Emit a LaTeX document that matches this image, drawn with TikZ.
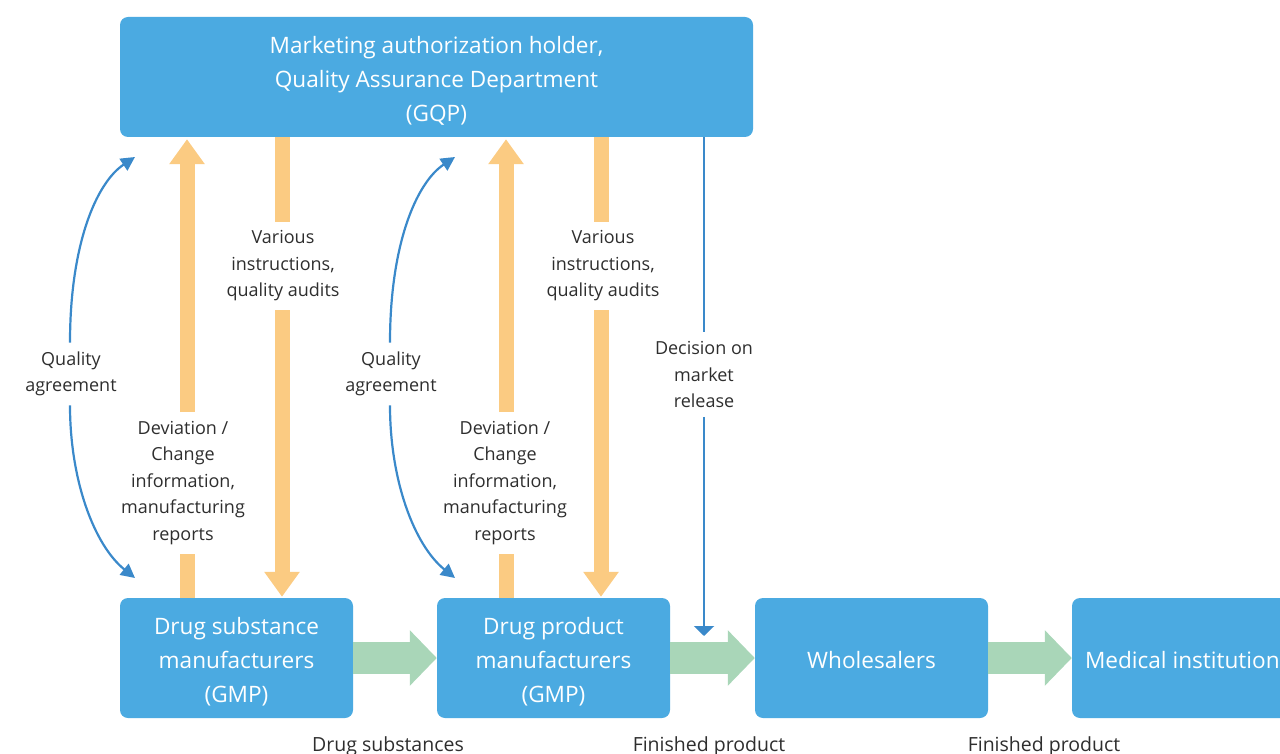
\documentclass[tikz,border=0pt]{standalone}
\usepackage{fontspec}
\setmainfont{Open Sans}
\usetikzlibrary{arrows.meta}
\definecolor{boxblue}{HTML}{4BAAE1}
\definecolor{lineblue}{HTML}{3A89CA}
\definecolor{orangeA}{HTML}{FBCB82}
\definecolor{greenA}{HTML}{A9D6B8}
\definecolor{txt}{HTML}{2E2E2E}
\begin{document}
\begin{tikzpicture}[x=1pt,y=-1pt,
  box/.style={fill=boxblue, rounded corners=8pt, minimum width=233pt, minimum height=120pt, inner sep=0pt},
  boxtext/.style={text=white, align=center, font=\fontsize{22.6}{34}\selectfont, inner sep=0pt},
  lbl/.style={text=txt, align=center, font=\fontsize{18}{26.5}\selectfont, inner xsep=2pt, inner ysep=9pt},
  blbl/.style={text=txt, font=\fontsize{19.5}{26}\selectfont, inner sep=0pt},
  garrow/.style={draw=greenA, line width=32pt, -{Triangle[width=54pt,length=27pt]}},
  oshaft/.style={draw=orangeA, line width=15pt},
  oarrow/.style={draw=orangeA, line width=15pt, -{Triangle[width=34pt,length=25pt]}},
  bcurve/.style={draw=lineblue, line width=2.2pt, -{Triangle[width=14pt,length=14pt]}},
  bline/.style={draw=lineblue, line width=2.2pt},
  barrow/.style={draw=lineblue, line width=2.2pt, -{Triangle[width=20pt,length=10pt]}}
]
\path[use as bounding box, clip] (0,0) rectangle (1280,754);

% boxes
\node[box, minimum width=633pt] (mah) at (436.5,77) {};
\node[box] (ds) at (236.5,658) {};
\node[box] (dp) at (553.5,658) {};
\node[box] (wh) at (871.5,658) {};
\node[box] (mi) at (1188.5,658) {};

% box texts
\node[boxtext] (mahT) at ([yshift=-3.5pt]mah.center) {Marketing authorization holder,\\Quality Assurance Department\\(GQP)};
\node[boxtext] (dsT) at ([yshift=-3.5pt]ds.center) {Drug substance\\manufacturers\\(GMP)};
\node[boxtext] (dpT) at ([yshift=-3.5pt]dp.center) {Drug product\\manufacturers\\(GMP)};
\node[boxtext] (whT) at ([yshift=-2pt]wh.center) {Wholesalers};
\node[boxtext, anchor=west] (miT) at ([xshift=13pt,yshift=-2pt]mi.west) {Medical institutions};

% green flow arrows
\draw[garrow] (ds.east) -- (dp.west);
\draw[garrow] (dp.east) -- (wh.west);
\draw[garrow] (wh.east) -- (mi.west);

% bottom labels
\node[blbl] (l1) at (388,746) {Drug substances};
\node[blbl] (l2) at (709,746) {Finished product};
\node[blbl] (l3) at (1044,746) {Finished product};

% x references
\coordinate (xA) at (187,0);
\coordinate (xB) at (282,0);
\coordinate (xC) at (506,0);
\coordinate (xD) at (601,0);
\coordinate (xE) at (704,0);
\coordinate (xQ1) at (70,0);
\coordinate (xQ2) at (390,0);

% labels
\node[lbl] (dev1) at (183,483) {Deviation /\\Change\\information,\\manufacturing\\reports};
\node[lbl] (dev2) at (505,483) {Deviation /\\Change\\information,\\manufacturing\\reports};
\node[lbl] (ins1) at (283,266) {Various\\instructions,\\quality audits};
\node[lbl] (ins2) at (603,266) {Various\\instructions,\\quality audits};
\node[lbl] (qa1) at (71,374) {Quality\\agreement};
\node[lbl] (qa2) at (391,374) {Quality\\agreement};
\node[lbl] (dec) at (704,374.5) {Decision on\\market\\release};

% orange arrows
\draw[oshaft] (ds.north -| xA) -- (dev1.south -| xA);
\draw[oarrow, shorten >=2pt] (dev1.north -| xA) -- (mah.south -| xA);
\draw[oshaft] (mah.south -| xB) -- (ins1.north -| xB);
\draw[oarrow, shorten >=1pt] (ins1.south -| xB) -- (ds.north -| xB);
\draw[oshaft] (dp.north -| xC) -- (dev2.south -| xC);
\draw[oarrow, shorten >=2pt] (dev2.north -| xC) -- (mah.south -| xC);
\draw[oshaft] (mah.south -| xD) -- (ins2.north -| xD);
\draw[oarrow, shorten >=1pt] (ins2.south -| xD) -- (dp.north -| xD);

% quality agreement curves
\coordinate (qa1t) at (135,157);
\coordinate (qa1b) at (135,578);
\coordinate (qa2t) at (455,157);
\coordinate (qa2b) at (455,578);
\draw[bcurve] (qa1.north -| xQ1) .. controls (70,245) and (96,183) .. (qa1t);
\draw[bcurve] (qa1.south -| xQ1) .. controls (70,480) and (94,545) .. (qa1b);
\draw[bcurve] (qa2.north -| xQ2) .. controls (390,245) and (416,183) .. (qa2t);
\draw[bcurve] (qa2.south -| xQ2) .. controls (390,480) and (414,545) .. (qa2b);

% decision on market release
\coordinate (decend) at (704,636);
\draw[bline] (mah.south -| xE) -- (dec.north);
\draw[barrow] (dec.south) -- (decend);
\end{tikzpicture}
\end{document}
